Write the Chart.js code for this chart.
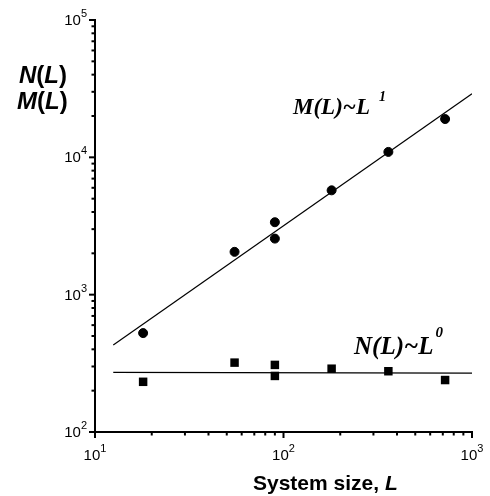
<!DOCTYPE html>
<html>
<head>
<meta charset="utf-8">
<script src="https://cdn.jsdelivr.net/npm/chart.js@4"></script>
<style>
  html, body { margin: 0; padding: 0; background: #fff; }
  #wrap { width: 490px; height: 496px; }
</style>
</head>
<body>
<div id="wrap"><canvas id="grafico" width="490" height="496"></canvas></div>
<script>
// system sizes and measured values
const tamanhosL = [18, 55, 90, 90, 180, 360, 720];
const valoresM = [525, 2050, 3370, 2560, 5750, 10950, 19000];
const valoresN = [232, 320, 308, 256, 289, 277, 239];

// fitted power laws (end points of the drawn lines)
const ajusteX = [12.5, 1000];
const ajusteM = [430, 29000];
const ajusteN = [272, 268];

// decade ticks
const decadasX = [1, 2, 3];
const decadasY = [2, 3, 4, 5];

const pares = (xs, ys) => xs.map((x, i) => ({ x, y: ys[i] }));

const eixosPlugin = {
  id: 'eixos',
  afterDraw(chart) {
    const ctx = chart.ctx;
    const sx = chart.scales.x;
    const sy = chart.scales.y;
    const area = chart.chartArea;
    ctx.save();
    ctx.strokeStyle = '#000';
    ctx.fillStyle = '#000';

    // x ticks (pointing down)
    for (let d = 1; d <= 2; d++) {
      for (let m = 1; m <= 9; m++) {
        const px = sx.getPixelForValue(m * Math.pow(10, d));
        ctx.lineWidth = 2;
        ctx.beginPath();
        ctx.moveTo(px, area.bottom);
        ctx.lineTo(px, area.bottom + (m === 1 ? 6 : 3.5));
        ctx.stroke();
      }
    }
    const pxFim = sx.getPixelForValue(1000);
    ctx.beginPath();
    ctx.moveTo(pxFim, area.bottom);
    ctx.lineTo(pxFim, area.bottom + 6);
    ctx.stroke();

    // y ticks (pointing left)
    for (let d = 2; d <= 4; d++) {
      for (let m = 1; m <= 9; m++) {
        const py = sy.getPixelForValue(m * Math.pow(10, d));
        ctx.lineWidth = 2;
        ctx.beginPath();
        ctx.moveTo(area.left, py);
        ctx.lineTo(area.left - (m === 1 ? 6 : 3.5), py);
        ctx.stroke();
      }
    }
    const pyTopo = sy.getPixelForValue(100000);
    ctx.beginPath();
    ctx.moveTo(area.left, pyTopo);
    ctx.lineTo(area.left - 6, pyTopo);
    ctx.stroke();

    // tick labels 10^n
    const base = '15px "Liberation Sans", Arial, sans-serif';
    const expo = '11px "Liberation Sans", Arial, sans-serif';
    ctx.textBaseline = 'alphabetic';
    ctx.textAlign = 'left';
    decadasX.forEach(n => {
      const px = sx.getPixelForValue(Math.pow(10, n));
      ctx.font = base;
      const w1 = ctx.measureText('10').width;
      ctx.font = expo;
      const w2 = ctx.measureText(String(n)).width;
      const x0 = px - (w1 + w2) / 2;
      ctx.font = base;
      ctx.fillText('10', x0, area.bottom + 28);
      ctx.font = expo;
      ctx.fillText(String(n), x0 + w1, area.bottom + 20);
    });
    decadasY.forEach(n => {
      const py = sy.getPixelForValue(Math.pow(10, n));
      ctx.font = base;
      const w1 = ctx.measureText('10').width;
      ctx.font = expo;
      const w2 = ctx.measureText(String(n)).width;
      const x0 = area.left - 8 - w1 - w2;
      ctx.font = base;
      ctx.fillText('10', x0, py + 5);
      ctx.font = expo;
      ctx.fillText(String(n), x0 + w1, py - 3);
    });

    // helper for mixed upright / italic text
    const escrever = (partes, x, y) => {
      partes.forEach(([txt, fonte]) => {
        ctx.font = fonte;
        ctx.fillText(txt, x, y);
        x += ctx.measureText(txt).width;
      });
      return x;
    };

    // axis title
    const bold = 'bold 21px "Liberation Sans", Arial, sans-serif';
    const boldIt = 'italic bold 21px "Liberation Sans", Arial, sans-serif';
    escrever([['System size, ', bold], ['L', boldIt]], 253, 490);

    // y title
    const b2 = 'bold 24px "Liberation Sans", Arial, sans-serif';
    const bi2 = 'italic bold 24px "Liberation Sans", Arial, sans-serif';
    escrever([['N', bi2], ['(', b2], ['L', bi2], [')', b2]], 19, 83);
    escrever([['M', bi2], ['(', b2], ['L', bi2], [')', b2]], 17, 109);

    // fit annotations
    const serif = '"Liberation Serif", "Times New Roman", serif';
    let xe = escrever([['M(L)~L', 'italic bold 23px ' + serif]], 293, 114);
    escrever([['1', 'italic bold 14px ' + serif]], xe + 9, 101);
    xe = escrever([['N(L)~L', 'italic bold 25px ' + serif]], 354, 354);
    escrever([['0', 'italic bold 15px ' + serif]], xe + 2, 337);

    ctx.restore();
  }
};

const ctx = document.getElementById('grafico').getContext('2d');
const grafico = new Chart(ctx, {
  type: 'scatter',
  data: {
    datasets: [
      {
        label: 'ajuste M',
        type: 'line',
        data: pares(ajusteX, ajusteM),
        borderColor: '#000',
        borderWidth: 1.2,
        pointRadius: 0,
        fill: false
      },
      {
        label: 'ajuste N',
        type: 'line',
        data: pares(ajusteX, ajusteN),
        borderColor: '#000',
        borderWidth: 1.2,
        pointRadius: 0,
        fill: false
      },
      {
        label: 'M(L)',
        data: pares(tamanhosL, valoresM),
        backgroundColor: '#000',
        borderColor: '#000',
        borderWidth: 1,
        pointStyle: 'circle',
        pointRadius: 4.5
      },
      {
        label: 'N(L)',
        data: pares(tamanhosL, valoresN),
        backgroundColor: '#000',
        borderColor: '#000',
        borderWidth: 0,
        pointStyle: 'rect',
        pointRadius: 6
      }
    ]
  },
  options: {
    responsive: false,
    animation: false,
    layout: { padding: { left: 0, right: 18, top: 20, bottom: 0 } },
    plugins: {
      legend: { display: false },
      tooltip: { enabled: false }
    },
    scales: {
      x: {
        type: 'logarithmic',
        min: 10,
        max: 1000,
        grid: { display: false, drawTicks: false },
        border: { display: true, color: '#000', width: 2 },
        ticks: { display: false },
        afterFit(scale) { scale.height = 64; }
      },
      y: {
        type: 'logarithmic',
        min: 100,
        max: 100000,
        grid: { display: false, drawTicks: false },
        border: { display: true, color: '#000', width: 2 },
        ticks: { display: false },
        afterFit(scale) { scale.width = 95; }
      }
    }
  },
  plugins: [eixosPlugin]
});
</script>
</body>
</html>
